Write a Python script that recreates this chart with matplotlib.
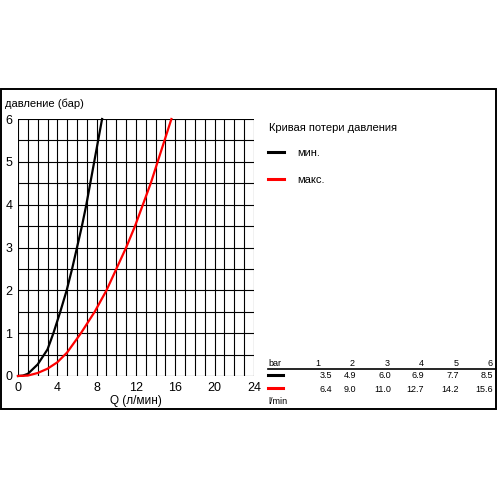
import matplotlib
matplotlib.use("Agg")
import matplotlib.pyplot as plt
import numpy as np
from matplotlib.patches import Rectangle

plt.rcParams['font.family'] = ['Liberation Sans', 'DejaVu Sans']

# pressure-loss curves (Q in l/min, p in bar)
qMin = [0, 0.5, 1.0, 2.0, 3.0, 3.6, 4.3, 4.95, 5.5, 6.0, 6.5, 6.95, 7.35, 7.75, 8.15, 8.55]
pMin = [0, 0.01, 0.05, 0.27, 0.62, 1.0, 1.5, 2.0, 2.5, 3.0, 3.5, 4.0, 4.5, 5.0, 5.5, 6.0]
qMax = [0, 1.0, 2.0, 3.0, 4.0, 5.0, 6.4, 7.8, 9.0, 10.0, 11.0, 11.9, 12.7, 13.5, 14.2, 14.9, 15.6]
pMax = [0, 0.01, 0.07, 0.17, 0.32, 0.55, 1.0, 1.5, 2.0, 2.5, 3.0, 3.5, 4.0, 4.5, 5.0, 5.5, 6.0]

# table below the legend
tableBar = [1, 2, 3, 4, 5, 6]
tableMin = ["3.5", "4.9", "6.0", "6.9", "7.7", "8.5"]
tableMax = ["6.4", "9.0", "11.0", "12.7", "14.2", "15.6"]
xTicks = [0, 4, 8, 12, 16, 20, 24]
yTicks = [0, 1, 2, 3, 4, 5, 6]

W = 500.0

def fx(px):
    return px / W

def fy(py):
    return 1 - py / W

fig = plt.figure(figsize=(5, 5), dpi=100)
fig.patch.set_facecolor("white")

# outer frame
fig.patches.append(Rectangle((fx(1), fy(409)), fx(496) - fx(1), fy(89) - fy(409),
                             transform=fig.transFigure, fill=False,
                             edgecolor="black", linewidth=1.4))

ax = fig.add_axes([fx(18), fy(376), fx(254) - fx(18), fy(119) - fy(376)])
ax.set_xlim(0, 24)
ax.set_ylim(0, 6)
for s in ax.spines.values():
    s.set_visible(False)
for q in range(0, 25):
    ax.axvline(q, color="black", linewidth=0.8, zorder=1)
for p in np.arange(0, 6.01, 0.5):
    ax.axhline(p, color="black", linewidth=0.8, zorder=1)

ax.plot(qMin, pMin, color="black", linewidth=1.6, zorder=3, clip_on=False)
ax.plot(qMax, pMax, color="#ff0000", linewidth=1.6, zorder=3, clip_on=False)

ax.set_xticks(xTicks)
ax.set_yticks(yTicks)
ax.tick_params(length=0, labelsize=9, pad=4)
ax.set_xlabel("Q (л/мин)", fontsize=8.5, labelpad=1)
fig.text(fx(5), fy(104), "давление (бар)", fontsize=8, va="center", ha="left")

# legend
fig.text(fx(269), fy(128), "Кривая потери давления", fontsize=8, va="center")
fig.add_artist(plt.Line2D([fx(268), fx(284)], [fy(152), fy(152)], color="black", linewidth=2.2))
fig.text(fx(297), fy(153), "мин.", fontsize=8, va="center")
fig.add_artist(plt.Line2D([fx(268), fx(284)], [fy(179), fy(179)], color="#ff0000", linewidth=2.2))
fig.text(fx(297), fy(180), "макс.", fontsize=8, va="center")

# table
tf = 6.5
hdrX = [320, 355, 390, 424, 459, 493]
valX = [332, 356, 391, 424, 459, 493]
fig.text(fx(268), fy(363), "bar", fontsize=tf, va="center")
for i in range(len(tableBar)):
    fig.text(fx(hdrX[i]), fy(363), str(tableBar[i]), fontsize=tf, va="center", ha="right")
    fig.text(fx(valX[i]), fy(375), tableMin[i], fontsize=tf, va="center", ha="right")
    fig.text(fx(valX[i]), fy(389), tableMax[i], fontsize=tf, va="center", ha="right")
fig.add_artist(plt.Line2D([fx(268), fx(496)], [fy(369), fy(369)], color="black", linewidth=1.2))
fig.add_artist(plt.Line2D([fx(268), fx(283)], [fy(375), fy(375)], color="black", linewidth=2.2))
fig.add_artist(plt.Line2D([fx(268), fx(283)], [fy(388), fy(388)], color="#ff0000", linewidth=2.2))
fig.text(fx(268), fy(402), "l/min", fontsize=tf, va="center")

fig.savefig("out.png", dpi=100, facecolor="white")
